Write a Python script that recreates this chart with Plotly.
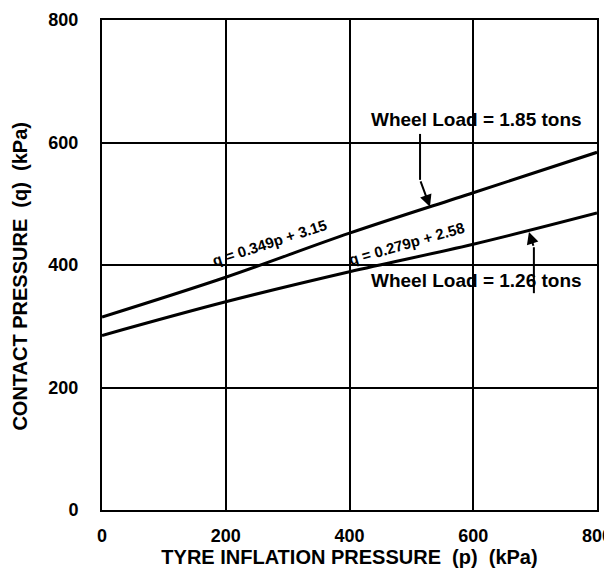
import plotly.graph_objects as go

# Data
p_values = [0, 200, 400, 600, 800]
q_185 = [315, 380, 452, 518, 584]   # Wheel Load = 1.85 tons
q_126 = [285, 340, 389, 434, 485]   # Wheel Load = 1.26 tons

x_ticks = [0, 200, 400, 600, 800]
y_ticks = [0, 200, 400, 600, 800]

FONT = "Liberation Sans"
NB = "\u00a0"

fig = go.Figure()
fig.add_trace(go.Scatter(x=p_values, y=q_185, mode="lines",
                         line=dict(color="black", width=3), line_shape="spline",
                         showlegend=False, hoverinfo="skip", cliponaxis=False))
fig.add_trace(go.Scatter(x=p_values, y=q_126, mode="lines",
                         line=dict(color="black", width=3), line_shape="spline",
                         showlegend=False, hoverinfo="skip", cliponaxis=False))

axis_common = dict(
    showline=True, linecolor="black", linewidth=2, mirror=True,
    showgrid=True, gridcolor="black", gridwidth=2,
    zeroline=False, ticks="", automargin=False, ticklabeloverflow="allow",
    tickfont=dict(family=FONT, size=18, color="black", weight="bold"),
)

title_font = dict(family=FONT, size=20, color="black", weight="bold")

fig.update_xaxes(range=[0, 800], tickvals=x_ticks, ticktext=[str(v) for v in x_ticks],
                 ticklabelstandoff=8,
                 title=dict(text=f"TYRE INFLATION PRESSURE{NB}{NB}(p){NB}{NB}(kPa)",
                            font=title_font, standoff=4),
                 **axis_common)
fig.update_yaxes(range=[0, 800], tickvals=y_ticks, ticktext=[str(v) for v in y_ticks],
                 ticklabelstandoff=18, **axis_common)

# Y axis title (placed slightly below centre, as in the original)
fig.add_annotation(x=-0.166, y=0.478, xref="paper", yref="paper",
                   text=f"CONTACT PRESSURE{NB}{NB}(q){NB}{NB}(kPa)",
                   showarrow=False, textangle=-90, font=title_font,
                   xanchor="center", yanchor="middle")

lab_font = dict(family=FONT, size=19, color="black", weight="bold")
eq_font = dict(family=FONT, size=15, color="black", weight="bold")

# Equation labels along the lines
fig.add_annotation(x=271, y=436, xref="x", yref="y", text="q = 0.349p + 3.15",
                   showarrow=False, textangle=-18, font=eq_font)
fig.add_annotation(x=492, y=435, xref="x", yref="y", text="q = 0.279p + 2.58",
                   showarrow=False, textangle=-16, font=eq_font)

# Wheel load labels
fig.add_annotation(x=605, y=637, xref="x", yref="y", text="Wheel Load = 1.85 tons",
                   showarrow=False, font=lab_font)
fig.add_annotation(x=605, y=374, xref="x", yref="y", text="Wheel Load = 1.26 tons",
                   showarrow=False, font=lab_font)

# Leader lines with arrows
fig.add_shape(type="line", x0=514, y0=614, x1=514, y1=539, xref="x", yref="y",
              line=dict(color="black", width=2))
fig.add_annotation(x=530, y=495, ax=514, ay=539, xref="x", yref="y", axref="x", ayref="y",
                   text="", showarrow=True, arrowhead=2, arrowsize=1.2, arrowwidth=2,
                   arrowcolor="black")
fig.add_shape(type="line", x0=698, y0=354, x1=698, y1=429, xref="x", yref="y",
              line=dict(color="black", width=2))
fig.add_annotation(x=690, y=454, ax=698, ay=429, xref="x", yref="y", axref="x", ayref="y",
                   text="", showarrow=True, arrowhead=2, arrowsize=1.2, arrowwidth=2,
                   arrowcolor="black")

# The page body has an 8px default margin, so the figure is drawn at (8, 8)
fig.update_layout(
    width=604, height=571,
    margin=dict(l=94, r=15, t=12, b=69),
    plot_bgcolor="white", paper_bgcolor="white",
    font=dict(family=FONT, color="black"),
)

fig.write_html("out.html")
